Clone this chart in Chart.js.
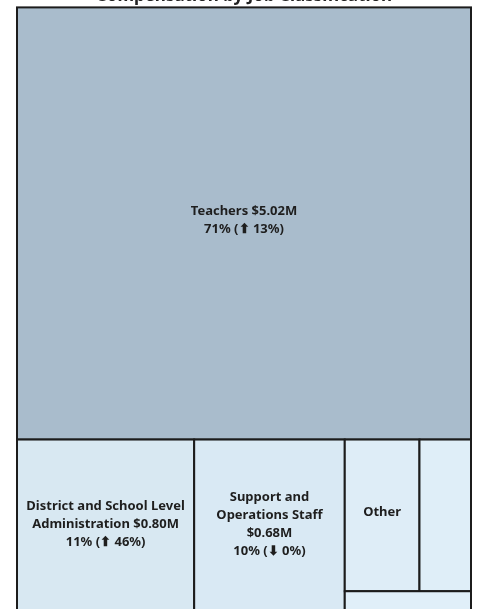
<!DOCTYPE html>
<html>
<head>
<meta charset="utf-8">
<script src="https://cdn.jsdelivr.net/npm/chart.js@4.4.1/dist/chart.umd.min.js"></script>
<style>
  html, body { margin: 0; padding: 0; background: #fff; overflow: hidden; }
  #wrap { position: absolute; left: 0; top: -20px; width: 477px; height: 638px; }
</style>
</head>
<body>
<div id="wrap"><canvas id="chart" width="477" height="638"></canvas></div>
<script>
// Data (compensation, $M)
const CATEGORIES = ['Teachers', 'District and School Level Administration', 'Support and Operations Staff', 'Other', 'Substitutes', 'Contracted Services'];
const AMOUNTS = [5.02, 0.80, 0.68, 0.29, 0.20, 0.08];
const SHARES = [71, 11, 10, 4, 3, 1];
const CHANGES = [13, 46, -0.3, 9, 5, 2]; // % change vs prior year

// Styles
const COLOR_LOW = { r: 224, g: 239, b: 249 };
const COLOR_HIGH = { r: 169, g: 188, b: 204 };
const BORDER_COLOR = '#1c1c1c';
const LABEL_FONT = 'bold 13px "Noto Sans"';
const LABEL_COLOR = '#1e1e1e';
const LINE_HEIGHT = 18;
const LABEL_PAD = 5;

// Sequential colour by value
function tileColor(v) {
    const min = Math.min(...AMOUNTS), max = Math.max(...AMOUNTS);
    const t = (v - min) / (max - min);
    const mix = k => Math.round(COLOR_LOW[k] + (COLOR_HIGH[k] - COLOR_LOW[k]) * t);
    return `rgb(${mix('r')}, ${mix('g')}, ${mix('b')})`;
}

// Squarified layout (golden ratio), same as d3.treemapSquarify
function squarify(values, x0, y0, x1, y1) {
    const ratio = (1 + Math.sqrt(5)) / 2;
    const n = values.length;
    const rects = [];
    let value = values.reduce((a, b) => a + b, 0);
    let i0 = 0, i1 = 0;
    while (i0 < n) {
        const dx = x1 - x0, dy = y1 - y0;
        let sum = values[i1++];
        let minV = sum, maxV = sum;
        const alpha = Math.max(dy / dx, dx / dy) / (value * ratio);
        let beta = sum * sum * alpha;
        let minRatio = Math.max(maxV / beta, beta / minV);
        for (; i1 < n; i1++) {
            const v = values[i1];
            sum += v;
            if (v < minV) minV = v;
            if (v > maxV) maxV = v;
            beta = sum * sum * alpha;
            const newRatio = Math.max(maxV / beta, beta / minV);
            if (newRatio > minRatio) { sum -= v; break; }
            minRatio = newRatio;
        }
        if (dx < dy) {
            const yEnd = i1 < n ? y0 + dy * sum / value : y1;
            let x = x0;
            for (let i = i0; i < i1; i++) {
                const w = dx * values[i] / sum;
                rects[i] = { x0: x, x1: x + w, y0: y0, y1: yEnd };
                x += w;
            }
            y0 = yEnd;
        } else {
            const xEnd = i1 < n ? x0 + dx * sum / value : x1;
            let y = y0;
            for (let i = i0; i < i1; i++) {
                const h = dy * values[i] / sum;
                rects[i] = { x0: x0, x1: xEnd, y0: y, y1: y + h };
                y += h;
            }
            x0 = xEnd;
        }
        value -= sum;
        i0 = i1;
    }
    return rects;
}

// Word wrap into lines no wider than maxWidth
function wrapText(ctx, text, maxWidth) {
    const words = text.split(' ');
    const lines = [];
    let line = '';
    words.forEach(word => {
        const test = line ? line + ' ' + word : word;
        if (ctx.measureText(test).width > maxWidth && line) {
            lines.push(line);
            line = word;
        } else {
            line = test;
        }
    });
    if (line) lines.push(line);
    return lines;
}

function fits(ctx, lines, w, h) {
    if (lines.length * LINE_HEIGHT > h - 2 * LABEL_PAD) return false;
    return lines.every(l => ctx.measureText(l).width <= w - 2 * LABEL_PAD);
}

function labelLines(ctx, i, w, h) {
    const arrow = CHANGES[i] >= 0 ? '\u2B06' : '\u2B07';
    const first = `${CATEGORIES[i]} $${AMOUNTS[i].toFixed(2)}M`;
    const second = `${SHARES[i]}% (${arrow} ${Math.abs(Math.round(CHANGES[i]))}%)`;
    const full = wrapText(ctx, first, w - 2 * LABEL_PAD).concat([second]);
    if (fits(ctx, full, w, h)) return full;
    const nameOnly = wrapText(ctx, CATEGORIES[i], w - 2 * LABEL_PAD);
    if (fits(ctx, nameOnly, w, h)) return nameOnly;
    return [];
}

// Treemap drawn through the x / y scales
const treemapPlugin = {
    id: 'treemap',
    afterDatasetsDraw(chart) {
        const { ctx, chartArea, scales } = chart;
        const aw = chartArea.right - chartArea.left;
        const ah = chartArea.bottom - chartArea.top;
        const rects = squarify(AMOUNTS, 0, 0, aw, ah);
        ctx.save();
        rects.forEach((r, i) => {
            const left = scales.x.getPixelForValue(r.x0 / aw);
            const right = scales.x.getPixelForValue(r.x1 / aw);
            const top = scales.y.getPixelForValue(r.y0 / ah);
            const bottom = scales.y.getPixelForValue(r.y1 / ah);
            ctx.fillStyle = tileColor(AMOUNTS[i]);
            ctx.fillRect(left, top, right - left, bottom - top);
            ctx.lineWidth = 2;
            ctx.strokeStyle = BORDER_COLOR;
            ctx.strokeRect(left, top, right - left, bottom - top);

            ctx.font = LABEL_FONT;
            ctx.fillStyle = LABEL_COLOR;
            ctx.textAlign = 'center';
            ctx.textBaseline = 'middle';
            const lines = labelLines(ctx, i, right - left, bottom - top);
            const cx = (left + right) / 2;
            const cy = (top + bottom) / 2 - 3;
            lines.forEach((line, k) => {
                ctx.fillText(line, cx, cy + (k - (lines.length - 1) / 2) * LINE_HEIGHT);
            });
        });
        ctx.restore();
    }
};

new Chart(document.getElementById('chart'), {
    type: 'scatter',
    data: { datasets: [{ data: [] }] },
    options: {
        responsive: false,
        animation: false,
        layout: { padding: { left: 17, right: 6, bottom: 2 } },
        scales: {
            x: { type: 'linear', min: 0, max: 1, display: false },
            y: { type: 'linear', min: 0, max: 1, reverse: true, display: false }
        },
        plugins: {
            legend: { display: false },
            tooltip: { enabled: false },
            title: {
                display: true,
                text: 'Compensation by Job Classification',
                color: '#222',
                font: { family: '"Noto Sans"', size: 17, weight: 'bold', lineHeight: 1.2 },
                padding: { top: 6, bottom: 1 }
            }
        }
    },
    plugins: [treemapPlugin]
});
</script>
</body>
</html>
